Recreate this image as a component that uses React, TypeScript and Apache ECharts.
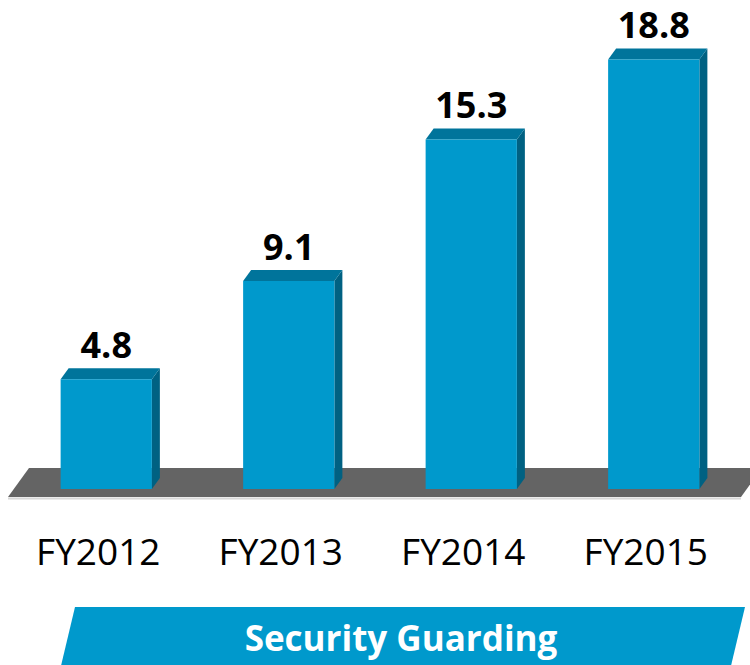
import React, { useEffect, useRef } from "react";
import * as echarts from "echarts";

const categories = ["FY2012", "FY2013", "FY2014", "FY2015"];
const values = [4.8, 9.1, 15.3, 18.8];
const bannerTitle = "Security Guarding";

const FRONT = "#0099cc";
const TOP = "#00749b";
const SIDE = "#006182";

export default function App() {
  const ref = useRef<HTMLDivElement>(null);
  useEffect(() => {
    document.body.style.margin = "0";
    const chart = echarts.init(ref.current!, null, { renderer: "svg" });
    const option: any = {
      animation: false,
      backgroundColor: "#ffffff",
      grid: { left: 15, right: 5, top: 32, bottom: 176 },
      xAxis: {
        type: "category",
        data: categories,
        axisLine: { show: false },
        axisTick: { show: false },
        axisLabel: {
          fontSize: 37,
          fontFamily: "Open Sans",
          color: "#000000",
          margin: 43,
          padding: [0, 16, 0, 0],
        },
      },
      yAxis: { type: "value", min: 0, max: 20, show: false },
      graphic: [
        {
          type: "polygon",
          z: 0,
          shape: { points: [[29, 468], [762, 468], [741, 497], [8, 497]] },
          style: { fill: "#646464" },
        },
        {
          type: "line",
          z: 0,
          shape: { x1: 8, y1: 498.5, x2: 741, y2: 498.5 },
          style: { stroke: "#d8d8d8", lineWidth: 2 },
        },
        {
          type: "polygon",
          z: 0,
          shape: { points: [[75, 607], [745, 607], [730, 670], [60, 670]] },
          style: { fill: FRONT },
        },
        {
          type: "text",
          z: 1,
          style: {
            text: bannerTitle,
            x: 401,
            y: 637,
            align: "center",
            verticalAlign: "middle",
            font: 'bold 35px "Open Sans"',
            fill: "#ffffff",
          },
        },
      ],
      series: [
        {
          type: "custom",
          clip: false,
          z: 5,
          data: values.map((v, i) => [i, v]),
          renderItem: (params: any, api: any) => {
            const idx = api.value(0);
            const val = api.value(1);
            const top = api.coord([idx, val]);
            const base = api.coord([idx, 0]);
            const w = api.size([1, 0])[0] * 0.5;
            const x0 = top[0] - w / 2;
            const x1 = top[0] + w / 2;
            const yT = top[1];
            const yB = base[1];
            const dx = 8;
            const dy = -11;
            return {
              type: "group",
              children: [
                {
                  type: "polygon",
                  shape: { points: [[x1, yT], [x1 + dx, yT + dy], [x1 + dx, yB + dy], [x1, yB]] },
                  style: { fill: SIDE },
                },
                {
                  type: "polygon",
                  shape: { points: [[x0, yT], [x0 + dx, yT + dy], [x1 + dx, yT + dy], [x1, yT]] },
                  style: { fill: TOP },
                },
                {
                  type: "rect",
                  shape: { x: x0, y: yT, width: w, height: yB - yT },
                  style: { fill: FRONT },
                },
                {
                  type: "text",
                  style: {
                    text: String(val),
                    x: top[0],
                    y: yT - 35,
                    align: "center",
                    verticalAlign: "middle",
                    lineHeight: 36,
                    font: 'bold 36px "Open Sans"',
                    fill: "#000000",
                  },
                },
              ],
            };
          },
        },
      ],
    };
    chart.setOption(option);
    return () => chart.dispose();
  }, []);
  return <div ref={ref} style={{ width: 750, height: 665 }} />;
}
